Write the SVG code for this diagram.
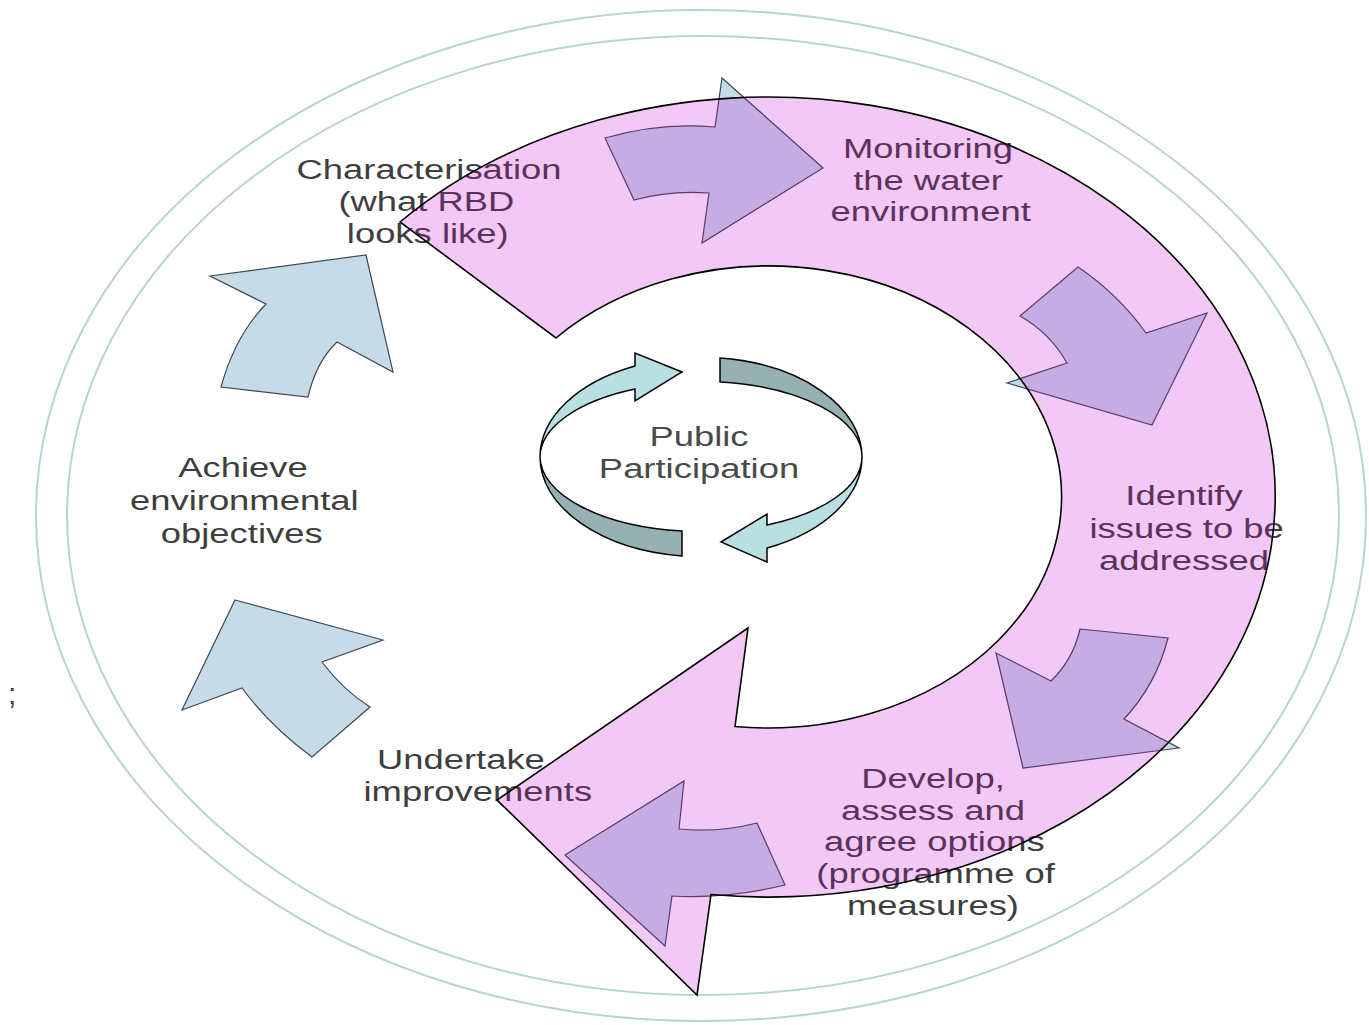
<svg xmlns="http://www.w3.org/2000/svg" width="1369" height="1025" viewBox="0 0 1369 1025">
<style>
.t{font-family:"Liberation Sans",Arial,sans-serif;font-size:28px;fill:#3e3e3e;text-anchor:middle}
.ring{fill:none;stroke:#b7d3da;stroke-width:2}
.barrow{fill:#c6dbe8;stroke:#3d4a55;stroke-width:1.2;stroke-linejoin:miter}
.lt{fill:#b8e0e3;stroke:#000;stroke-width:1.5}
.dk{fill:#95b1b3;stroke:#000;stroke-width:1.5}
</style>
<rect width="1369" height="1025" fill="#ffffff"/>
<g id="frame">
<ellipse class="ring" cx="701" cy="515.5" rx="665" ry="505.5"/>
<ellipse class="ring" cx="703" cy="515.5" rx="636" ry="479.5"/>
</g>
<text x="8" y="704" style="font-family:'Liberation Sans',Arial,sans-serif;font-size:30px;fill:#444">;</text>
<g id="connectors">
<path class="barrow" d="M366,255 L393,372 L337,342 Q316,362 308,397 L221,387 Q235,336 266,304 L210,276 Z"/>
<path class="barrow" d="M235,600 L383,640 L322,662 Q343,690 370,707 L312,757 Q270,726 242,688 L182,710 Z"/>
<path class="barrow" d="M605,138 Q660,122 715,127 L722,78 L823,168 L702,243 L709,193 Q670,190 634,200 Z"/>
<path class="barrow" d="M1020,316 L1078,267 Q1118,294 1146,333 L1207,313 L1152,425 L1007,383 L1067,363 Q1050,333 1020,316 Z"/>
<path class="barrow" d="M1080,629 L1168,638 Q1156,685 1124,719 L1179,748 L1023,768 L996,653 L1051,681 Q1073,660 1080,629 Z"/>
<path class="barrow" d="M565,855 L684,781 L679,829 Q718,833 757,823 L785,885 Q728,899 672,896 L665,946 Z"/>
</g>
<g id="characterisation">
<text class="t" transform="translate(429,0) scale(1.3,1)"><tspan x="0" y="179">Characterisation</tspan><tspan x="-2" y="211">(what RBD</tspan><tspan x="-1" y="243">looks like)</tspan></text>
</g>
<g id="monitoring">
<text class="t" transform="translate(928,0) scale(1.3,1)"><tspan x="0" y="158">Monitoring</tspan><tspan x="0" y="190">the water</tspan><tspan x="2" y="221">environment</tspan></text>
</g>
<g id="identify">
<text class="t" transform="translate(1184,0) scale(1.3,1)"><tspan x="0" y="505">Identify</tspan><tspan x="2" y="538">issues to be</tspan><tspan x="0" y="570">addressed</tspan></text>
</g>
<g id="develop">
<text class="t" transform="translate(933,0) scale(1.3,1)"><tspan x="0" y="788">Develop,</tspan><tspan x="0" y="820">assess and</tspan><tspan x="1" y="851">agree options</tspan><tspan x="2" y="883">(programme of</tspan><tspan x="0" y="915">measures)</tspan></text>
</g>
<g id="undertake">
<text class="t" transform="translate(470,0) scale(1.3,1)"><tspan x="-7" y="769">Undertake</tspan><tspan x="6" y="801">improvements</tspan></text>
</g>
<g id="achieve">
<text class="t" transform="translate(243,0) scale(1.3,1)"><tspan x="0" y="477">Achieve</tspan><tspan x="1" y="510">environmental</tspan><tspan x="-1" y="543">objectives</tspan></text>
</g>
<g id="cycle">
<path d="M400,222 A507,400 0 1 1 711,894.5 L697,995 L497,800 L748,628 L735,726.5 A293,231 0 1 0 556,338 Z" fill="rgb(195,5,205)" fill-opacity="0.22" stroke="#000" stroke-width="1.6" stroke-linejoin="miter"/>
</g>
<g id="public-participation">
<path class="dk" d="M540,457 A161,100 0 0 0 682,556 L682,531 A161,75 0 0 1 540,457 Z"/>
<path class="dk" d="M720,358 A161,100 0 0 1 862,457 A161,75 0 0 0 720,382 Z"/>
<path class="lt" d="M540,457 A161,100 0 0 1 635,366 L635,353 L682,372 L635,401 L635,389 A161,75 0 0 0 540,457 Z"/>
<path class="lt" d="M862,457 A161,100 0 0 1 767,548 L767,562 L721,542 L767,514 L767,525 A161,75 0 0 0 862,457 Z"/>
<text class="t" style="fill:#4a4a4a" transform="translate(699,0) scale(1.3,1)"><tspan x="0" y="446">Public</tspan><tspan x="0" y="478">Participation</tspan></text>
</g>
</svg>
